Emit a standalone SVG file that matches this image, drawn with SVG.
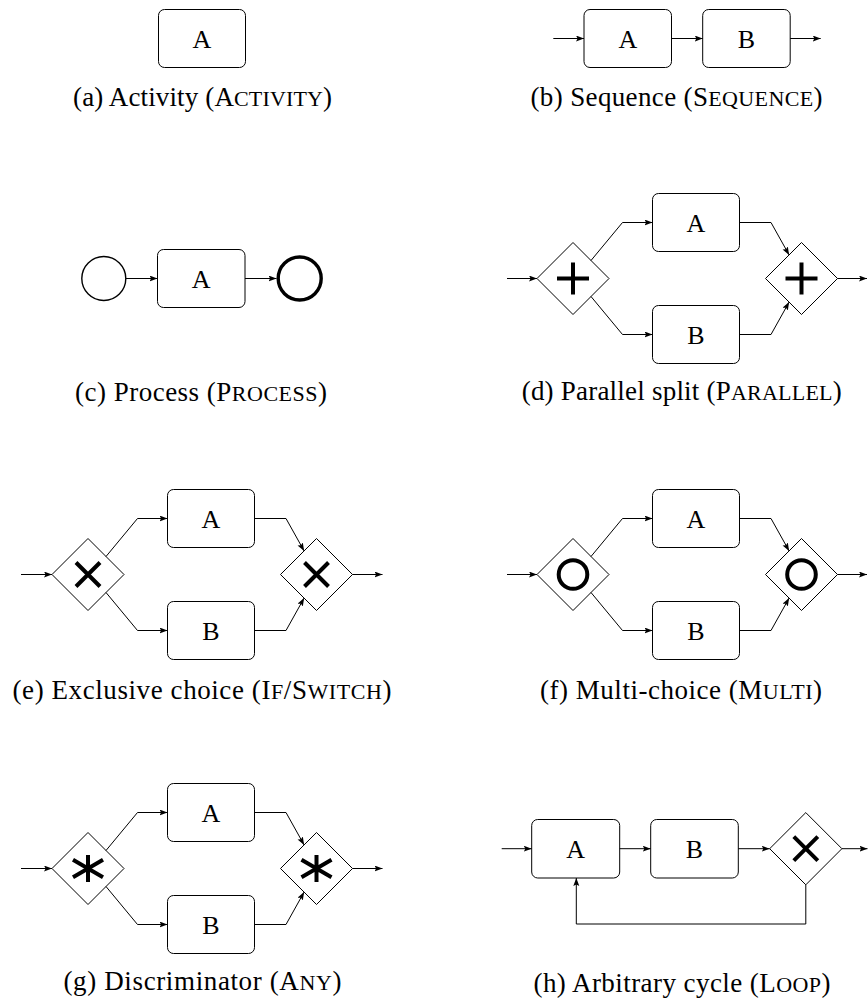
<svg xmlns="http://www.w3.org/2000/svg" width="868" height="1002" viewBox="0 0 868 1002">
<style>
.box{fill:#fff;stroke:#000;stroke-width:1}
.gw{fill:#fff;stroke:#000;stroke-width:1}
.sym{fill:none;stroke:#000;stroke-width:4}
.edge{fill:none;stroke:#000;stroke-width:1;marker-end:url(#arr)}
.lbl{font-family:"Liberation Serif",serif;font-size:26px;text-anchor:middle;fill:#000}
.cap{font-family:"Liberation Serif",serif;font-size:27px;text-anchor:middle;fill:#000}
.sc{font-size:22px}
</style>
<defs>
<marker id="arr" markerUnits="userSpaceOnUse" markerWidth="10" markerHeight="8" refX="8" refY="3" orient="auto">
<path d="M0,0 L8,3 L0,6 L1.6,3 Z" fill="#000"/>
</marker>
</defs>
<rect width="868" height="1002" fill="#fff"/>

<!-- (a) -->
<g id="a-A"><rect class="box" x="158.5" y="9.5" width="87" height="58" rx="6"/><text class="lbl" x="202" y="47.5">A</text></g>
<text class="cap" x="202.5" y="106" textLength="259" lengthAdjust="spacing">(a) Activity (A<tspan class="sc">CTIVITY</tspan>)</text>

<!-- (b) -->
<g id="b-A"><rect class="box" x="584" y="9.5" width="87.5" height="58" rx="6"/><text class="lbl" x="627.8" y="47.5">A</text></g>
<g id="b-B"><rect class="box" x="702.7" y="9.5" width="87.5" height="58" rx="6"/><text class="lbl" x="746.5" y="47.5">B</text></g>
<text class="cap" x="676.5" y="106" textLength="292" lengthAdjust="spacing">(b) Sequence (S<tspan class="sc">EQUENCE</tspan>)</text>

<!-- (c) -->
<g id="c-start"><circle cx="103.8" cy="278.5" r="22" fill="#fff" stroke="#000" stroke-width="1.4"/></g>
<g id="c-A"><rect class="box" x="157.5" y="249.5" width="87.5" height="58" rx="6"/><text class="lbl" x="201.2" y="287.5">A</text></g>
<g id="c-end"><circle cx="299.7" cy="278.5" r="21.5" fill="#fff" stroke="#000" stroke-width="3.4"/></g>
<text class="cap" x="201" y="401" textLength="252" lengthAdjust="spacing">(c) Process (P<tspan class="sc">ROCESS</tspan>)</text>

<!-- (d) -->
<g id="d-split"><polygon class="gw" points="537,278.5 573,242.5 609,278.5 573,314.5"/><path class="sym" d="M557,278.5 H589 M573,262.5 V294.5"/></g>
<g id="d-A"><rect class="box" x="652.5" y="193.5" width="87" height="58" rx="6"/><text class="lbl" x="696" y="231.5">A</text></g>
<g id="d-B"><rect class="box" x="652.5" y="305.5" width="87" height="58" rx="6"/><text class="lbl" x="696" y="343.5">B</text></g>
<g id="d-join"><polygon class="gw" points="765.5,278.5 801.5,242.5 837.5,278.5 801.5,314.5"/><path class="sym" d="M785.5,278.5 H817.5 M801.5,262.5 V294.5"/></g>
<text class="cap" x="681.7" y="400" textLength="320" lengthAdjust="spacing">(d) Parallel split (P<tspan class="sc">ARALLEL</tspan>)</text>

<!-- (e) -->
<g id="e-split"><polygon class="gw" points="52,574.5 88,538.5 124,574.5 88,610.5"/><path class="sym" d="M76,562.5 L100,586.5 M100,562.5 L76,586.5"/></g>
<g id="e-A"><rect class="box" x="167.5" y="489.5" width="87" height="58" rx="6"/><text class="lbl" x="211" y="527.5">A</text></g>
<g id="e-B"><rect class="box" x="167.5" y="601.5" width="87" height="58" rx="6"/><text class="lbl" x="211" y="639.5">B</text></g>
<g id="e-join"><polygon class="gw" points="280.5,574.5 316.5,538.5 352.5,574.5 316.5,610.5"/><path class="sym" d="M304.5,562.5 L328.5,586.5 M328.5,562.5 L304.5,586.5"/></g>
<text class="cap" x="202" y="699" textLength="379" lengthAdjust="spacing">(e) Exclusive choice (I<tspan class="sc">F</tspan>/S<tspan class="sc">WITCH</tspan>)</text>

<!-- (f) -->
<g id="f-split"><polygon class="gw" points="537,574.5 573,538.5 609,574.5 573,610.5"/><circle class="sym" cx="573" cy="574.5" r="14.3"/></g>
<g id="f-A"><rect class="box" x="652.5" y="489.5" width="87" height="58" rx="6"/><text class="lbl" x="696" y="527.5">A</text></g>
<g id="f-B"><rect class="box" x="652.5" y="601.5" width="87" height="58" rx="6"/><text class="lbl" x="696" y="639.5">B</text></g>
<g id="f-join"><polygon class="gw" points="765.5,574.5 801.5,538.5 837.5,574.5 801.5,610.5"/><circle class="sym" cx="801.5" cy="574.5" r="14.3"/></g>
<text class="cap" x="681" y="699" textLength="282" lengthAdjust="spacing">(f) Multi-choice (M<tspan class="sc">ULTI</tspan>)</text>

<!-- (g) -->
<g id="g-split"><polygon class="gw" points="52,868.5 88,832.5 124,868.5 88,904.5"/><path class="sym" d="M88,855 V882 M73,859.8 L103,877.2 M73,877.2 L103,859.8"/></g>
<g id="g-A"><rect class="box" x="167.5" y="783.5" width="87" height="58" rx="6"/><text class="lbl" x="211" y="821.5">A</text></g>
<g id="g-B"><rect class="box" x="167.5" y="895.5" width="87" height="58" rx="6"/><text class="lbl" x="211" y="933.5">B</text></g>
<g id="g-join"><polygon class="gw" points="280.5,868.5 316.5,832.5 352.5,868.5 316.5,904.5"/><path class="sym" d="M316.5,855 V882 M301.5,859.8 L331.5,877.2 M301.5,877.2 L331.5,859.8"/></g>
<text class="cap" x="202.5" y="990" textLength="278" lengthAdjust="spacing">(g) Discriminator (A<tspan class="sc">NY</tspan>)</text>

<!-- (h) -->
<g id="h-A"><rect class="box" x="531.7" y="819.5" width="88" height="58.5" rx="6"/><text class="lbl" x="575.7" y="857.8">A</text></g>
<g id="h-B"><rect class="box" x="650.7" y="819.5" width="87.6" height="58.5" rx="6"/><text class="lbl" x="694.5" y="857.8">B</text></g>
<g id="h-xor"><polygon class="gw" points="769.7,848.7 805.8,812.6 841.9,848.7 805.8,884.8"/><path class="sym" d="M793.8,836.7 L817.8,860.7 M817.8,836.7 L793.8,860.7"/></g>
<text class="cap" x="682" y="991.5" textLength="297" lengthAdjust="spacing">(h) Arbitrary cycle (L<tspan class="sc">OOP</tspan>)</text>

<g id="connectors">
<path class="edge" d="M553.3,38.5 H584"/>
<path class="edge" d="M671.5,38.5 H702.7"/>
<path class="edge" d="M790.2,38.5 H820.7"/>
<path class="edge" d="M125.8,278.5 H157.5"/>
<path class="edge" d="M245,278.5 H276.5"/>
<path class="edge" d="M507,278.5 H537"/>
<path class="edge" d="M591,260.5 L622.5,222.5 H652.5"/>
<path class="edge" d="M591,296.5 L622.5,334.5 H652.5"/>
<path class="edge" d="M739.5,222.5 H771 L789.1,254.9"/>
<path class="edge" d="M739.5,334.5 H771 L789.1,302.1"/>
<path class="edge" d="M837.5,278.5 H867"/>
<path class="edge" d="M21,574.5 H52"/>
<path class="edge" d="M106,556.5 L137.5,518.5 H167.5"/>
<path class="edge" d="M106,592.5 L137.5,630.5 H167.5"/>
<path class="edge" d="M254.5,518.5 H286 L304.1,550.9"/>
<path class="edge" d="M254.5,630.5 H286 L304.1,598.1"/>
<path class="edge" d="M352.5,574.5 H382.5"/>
<path class="edge" d="M507,574.5 H537"/>
<path class="edge" d="M591,556.5 L622.5,518.5 H652.5"/>
<path class="edge" d="M591,592.5 L622.5,630.5 H652.5"/>
<path class="edge" d="M739.5,518.5 H771 L789.1,550.9"/>
<path class="edge" d="M739.5,630.5 H771 L789.1,598.1"/>
<path class="edge" d="M837.5,574.5 H867"/>
<path class="edge" d="M21,868.5 H52"/>
<path class="edge" d="M106,850.5 L137.5,812.5 H167.5"/>
<path class="edge" d="M106,886.5 L137.5,924.5 H167.5"/>
<path class="edge" d="M254.5,812.5 H286 L304.1,844.9"/>
<path class="edge" d="M254.5,924.5 H286 L304.1,892.1"/>
<path class="edge" d="M352.5,868.5 H382.5"/>
<path class="edge" d="M501.7,848.7 H531.7"/>
<path class="edge" d="M619.7,848.7 H650.7"/>
<path class="edge" d="M738.3,848.7 H769.7"/>
<path class="edge" d="M841.9,848.7 H867.5"/>
<path class="edge" d="M805.8,884.8 V924 H576.3 V878"/>
</g>
</svg>
